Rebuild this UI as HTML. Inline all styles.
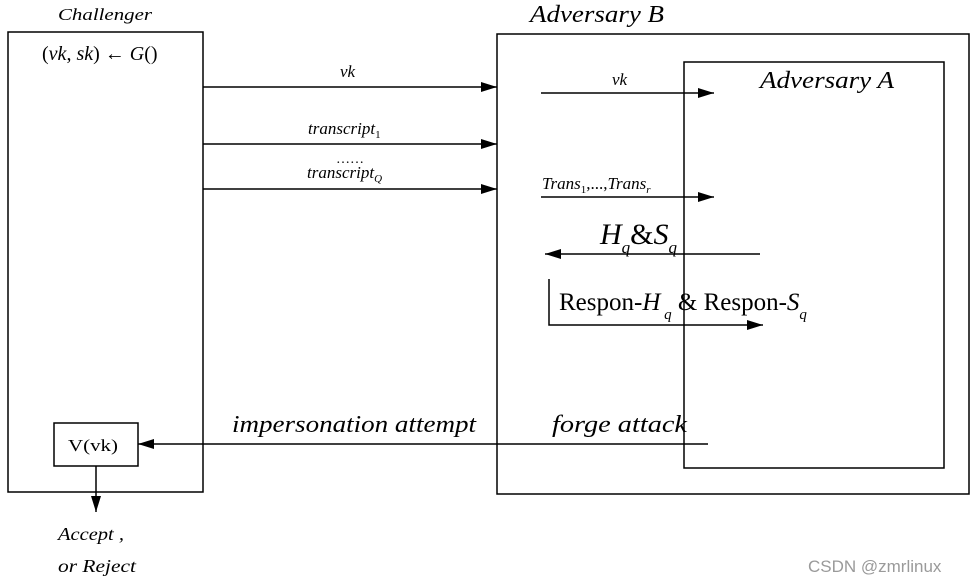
<!DOCTYPE html>
<html><head><meta charset="utf-8"><style>body{margin:0;background:#fff}svg{display:block}</style></head><body>
<svg width="976" height="582" viewBox="0 0 976 582" font-family="'Liberation Serif', serif">
<defs><marker id="a" markerWidth="16" markerHeight="10" refX="16" refY="5" orient="auto" markerUnits="userSpaceOnUse"><path d="M0,0L16,5L0,10z" fill="#000"/></marker></defs>
<g fill="none" stroke="#000" stroke-width="1.5">
<rect x="8" y="32" width="195" height="460"/>
<rect x="497" y="34" width="472" height="460"/>
<rect x="684" y="62" width="260" height="406"/>
<rect x="54" y="423" width="84" height="43"/>
<line x1="203" y1="87" x2="497" y2="87" marker-end="url(#a)"/>
<line x1="203" y1="144" x2="497" y2="144" marker-end="url(#a)"/>
<line x1="203" y1="189" x2="497" y2="189" marker-end="url(#a)"/>
<line x1="541" y1="93" x2="714" y2="93" marker-end="url(#a)"/>
<line x1="541" y1="197" x2="714" y2="197" marker-end="url(#a)"/>
<line x1="760" y1="254" x2="545" y2="254" marker-end="url(#a)"/>
<polyline points="549,279 549,325 763,325" marker-end="url(#a)"/>
<line x1="708" y1="444" x2="138" y2="444" marker-end="url(#a)"/>
<line x1="96" y1="466" x2="96" y2="512" marker-end="url(#a)"/>
</g>
<g font-style="italic" font-family="'Liberation Serif', serif">
<text x="58" y="20" font-size="17" textLength="94" lengthAdjust="spacingAndGlyphs">Challenger</text>
<text x="530" y="22" font-size="24" textLength="134" lengthAdjust="spacingAndGlyphs">Adversary B</text>
<text x="760" y="88" font-size="24" textLength="134" lengthAdjust="spacingAndGlyphs">Adversary A</text>
<text x="340" y="77" font-size="17">vk</text>
<text x="612" y="85" font-size="17">vk</text>
<text x="308" y="134" font-size="17">transcript<tspan font-size="11" dy="4" font-style="normal">1</tspan></text>
<text x="307" y="178" font-size="17">transcript<tspan font-size="11" dy="4">Q</tspan></text>
<text x="542" y="189" font-size="17">Trans<tspan font-size="11" dy="4" font-style="normal">1</tspan><tspan dy="-4" font-style="normal">,...,</tspan>Trans<tspan font-size="11" dy="4">r</tspan></text>
<text x="232" y="432" font-size="24" textLength="244" lengthAdjust="spacingAndGlyphs">impersonation  attempt</text>
<text x="552" y="432" font-size="24" textLength="135" lengthAdjust="spacingAndGlyphs">forge attack</text>
<text x="58" y="540" font-size="18" textLength="66" lengthAdjust="spacingAndGlyphs">Accept ,</text>
<text x="58" y="572" font-size="18" textLength="78" lengthAdjust="spacingAndGlyphs">or Reject</text>
</g>
<text x="336" y="163" font-size="14">……</text>
<text x="42" y="60" font-size="20"><tspan>(</tspan><tspan font-style="italic">vk</tspan>, <tspan font-style="italic">sk</tspan>) ← <tspan font-style="italic">G</tspan>()</text>
<text x="600" y="244" font-size="30"><tspan font-style="italic">H</tspan><tspan font-size="17" font-style="italic" dy="9">q</tspan><tspan dy="-9">&amp;</tspan><tspan font-style="italic">S</tspan><tspan font-size="17" font-style="italic" dy="9">q</tspan></text>
<text x="559" y="310" font-size="25">Respon-<tspan font-style="italic">H</tspan><tspan font-size="15" font-style="italic" dy="9"> q</tspan><tspan dy="-9"> &amp; Respon-</tspan><tspan font-style="italic">S</tspan><tspan font-size="15" font-style="italic" dy="9">q</tspan></text>
<text x="68" y="451" font-size="17" textLength="50" lengthAdjust="spacingAndGlyphs" font-family="'Liberation Serif', serif">V(vk)</text>
<text x="808" y="572" font-size="17" fill="#9a9a9a" font-family="'Liberation Sans', sans-serif">CSDN @zmrlinux</text>
</svg>
</body></html>
